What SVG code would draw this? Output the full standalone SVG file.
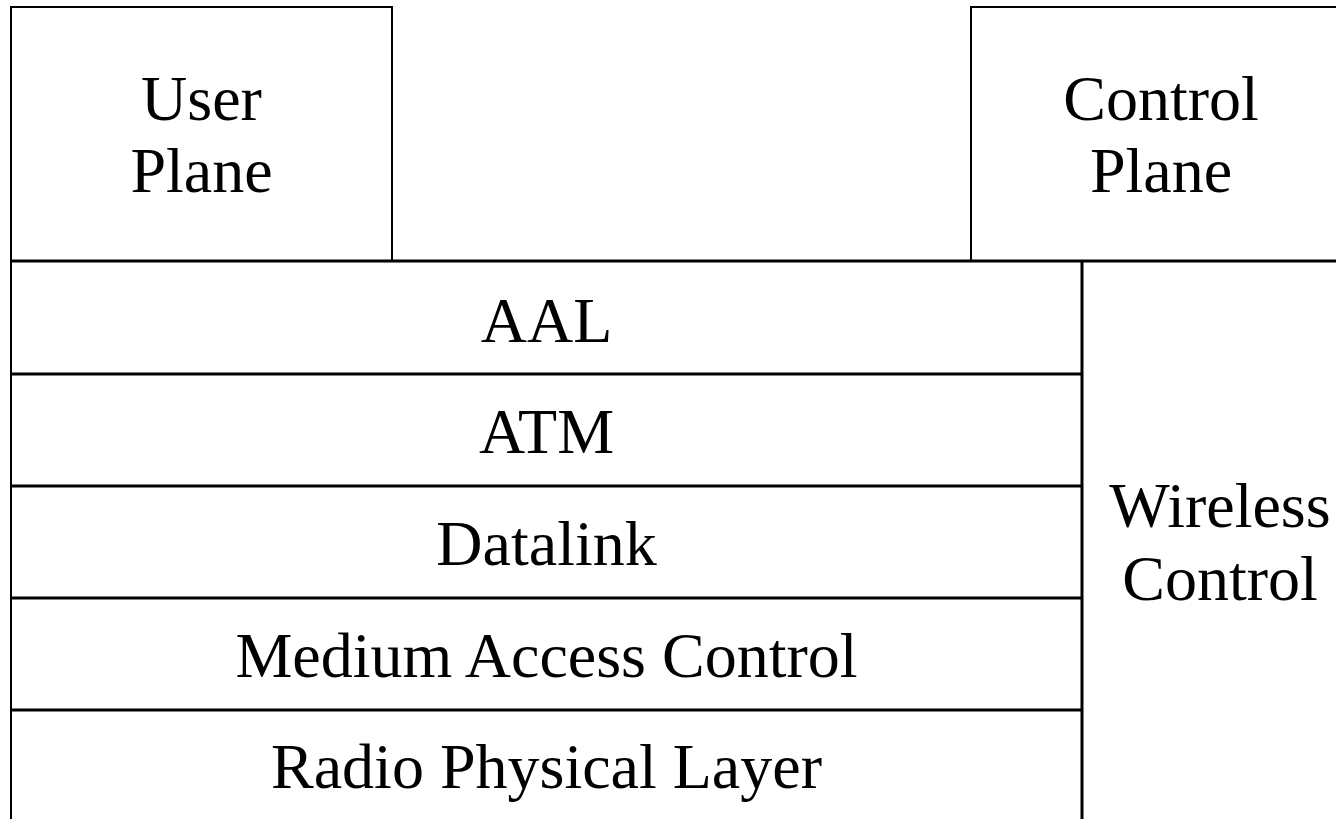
<svg xmlns="http://www.w3.org/2000/svg" width="1336" height="819" viewBox="0 0 1336 819">
<style>
.box{fill:#fff;stroke:#000;stroke-width:2}
.ln{stroke:#000;stroke-width:3;fill:none}
.t{font-family:"Liberation Serif","Times New Roman",serif;font-size:64px;fill:#000;text-anchor:middle}
</style>
<rect width="1336" height="819" fill="#fff"/>
<g id="user-plane">
<rect class="box" x="11" y="7" width="381" height="254"/>
<text class="t" x="201.5" y="120">User</text>
<text class="t" x="201.5" y="192">Plane</text>
</g>
<g id="control-plane">
<rect class="box" x="971" y="7" width="390" height="254"/>
<text class="t" x="1161" y="120">Control</text>
<text class="t" x="1161" y="192">Plane</text>
</g>
<g id="connectors">
<line class="ln" x1="11" y1="261" x2="1336" y2="261"/>
<line class="ln" x1="11" y1="261" x2="11" y2="819" style="stroke-width:2"/>
<line class="ln" x1="1082" y1="261" x2="1082" y2="819"/>
<line class="ln" x1="11" y1="374" x2="1082" y2="374"/>
<line class="ln" x1="11" y1="486" x2="1082" y2="486"/>
<line class="ln" x1="11" y1="598" x2="1082" y2="598"/>
<line class="ln" x1="11" y1="710" x2="1082" y2="710"/>
</g>
<g id="aal"><text class="t" x="546.5" y="342">AAL</text></g>
<g id="atm"><text class="t" x="546.5" y="453">ATM</text></g>
<g id="datalink"><text class="t" x="546.5" y="565">Datalink</text></g>
<g id="mac"><text class="t" x="546.5" y="677">Medium Access Control</text></g>
<g id="phy"><text class="t" x="546.5" y="788">Radio Physical Layer</text></g>
<g id="wireless-control">
<text class="t" x="1220" y="527">Wireless</text>
<text class="t" x="1220" y="600">Control</text>
</g>
</svg>
